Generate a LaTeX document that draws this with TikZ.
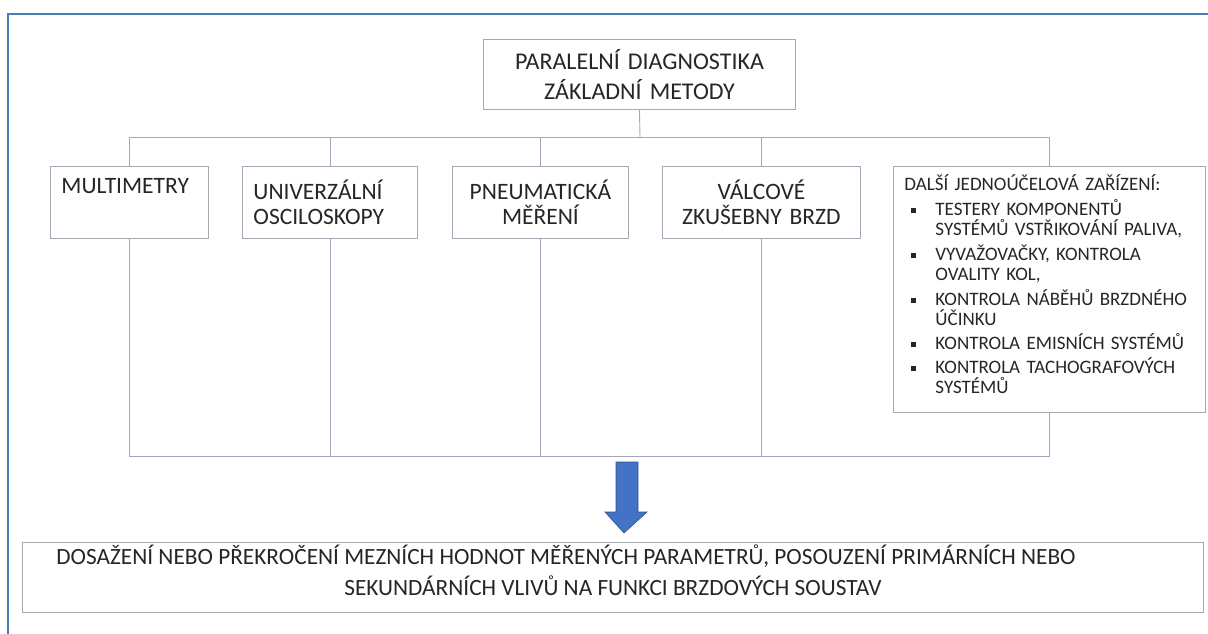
\documentclass[tikz,border=0pt]{standalone}
\usepackage{fontspec}
\setmainfont{Carlito}
\definecolor{framebl}{HTML}{4A7EBB}
\definecolor{boxline}{HTML}{A6A8B4}
\definecolor{wire}{HTML}{A2A6BE}
\definecolor{ink}{HTML}{262626}
\definecolor{arrowbl}{HTML}{4472C4}
\definecolor{arrowedge}{HTML}{2F528F}
\newcommand\sqbul{\makebox[31pt][l]{\hspace{7pt}\raisebox{3pt}{\rule{5pt}{5pt}}}}
\newcommand\sqind{\hspace*{31pt}}
\tikzset{
  box/.style={draw=boxline, line width=0.9pt, fill=white, text=ink,
    anchor=north west, inner xsep=11pt, inner ysep=4pt,
    font=\fontsize{23.5}{25}\selectfont},
  wireline/.style={draw=wire, line width=0.9pt},
}
\begin{document}
\begin{tikzpicture}[x=1pt,y=-1pt]
\useasboundingbox (0,0) rectangle (1208,633);
% outer frame, running past the page on the right and at the bottom
\begin{scope}
  \clip (0,0) rectangle (1208,633);
  \draw[framebl, line width=2pt] (8,14) rectangle (1230,660);
\end{scope}

% title box
\node[box, minimum width=312, minimum height=70, text width=290, align=center,
  font=\fontsize{24}{29.5}\selectfont]
  (top) at (483,39) {PARALELNÍ DIAGNOSTIKA\\ZÁKLADNÍ METODY};

% method boxes
\node[box, minimum width=158, minimum height=72, text width=136, align=left]
  (multi) at (50,166) {MULTIMETRY\\\strut};
\node[box, minimum width=175, minimum height=72, text width=153, align=left]
  (osci) at (242,166) {UNIVERZÁLNÍ\\OSCILOSKOPY};
\node[box, minimum width=176, minimum height=72, text width=154, align=center]
  (pneu) at (452,166) {PNEUMATICKÁ\\MĚŘENÍ};
\node[box, minimum width=198, minimum height=72, text width=176, align=center]
  (valc) at (662,166) {VÁLCOVÉ\\ZKUŠEBNY BRZD};

% box of further single-purpose devices and its list
\node[box, minimum width=312, minimum height=246] (dalsi) at (893,166) {};
\node[text=ink, text width=290, align=left, font=\fontsize{19}{20}\selectfont]
  (dalsitxt) at ([yshift=5pt]dalsi.center) {DALŠÍ JEDNOÚČELOVÁ ZAŘÍZENÍ:\\[5pt]
  \sqbul TESTERY KOMPONENTŮ\\
  \sqind SYSTÉMŮ VSTŘIKOVÁNÍ PALIVA,\\[5pt]
  \sqbul VYVAŽOVAČKY, KONTROLA\\
  \sqind OVALITY KOL,\\[5pt]
  \sqbul KONTROLA NÁBĚHŮ BRZDNÉHO\\
  \sqind ÚČINKU\\[4pt]
  \sqbul KONTROLA EMISNÍCH SYSTÉMŮ\\[4pt]
  \sqbul KONTROLA TACHOGRAFOVÝCH\\
  \sqind SYSTÉMŮ};

% result box and its text
\node[box, minimum width=1181, minimum height=70] (result) at (22,542) {};
\node[text=ink, align=center, font=\fontsize{23.3}{31}\selectfont]
  (resulttxt) at ([yshift=7pt]result.center)
  {DOSAŽENÍ NEBO PŘEKROČENÍ MEZNÍCH HODNOT MĚŘENÝCH PARAMETRŮ, POSOUZENÍ PRIMÁRNÍCH NEBO\hspace*{94pt}\\
  SEKUNDÁRNÍCH VLIVŮ NA FUNKCI BRZDOVÝCH SOUSTAV};

% upper and lower buses
\coordinate (busA) at (640,137);
\coordinate (busB) at (640,456);
\draw[wireline] (top.south) -- (busA);
\foreach \n in {multi,osci,pneu,valc,dalsi}{
  \draw[wireline] (\n.north) |- (busA);
  \draw[wireline] (\n.south) |- (busB);
}

% block arrow down to the result
\coordinate (ar) at (627,462);
\filldraw[fill=arrowbl, draw=arrowedge, line width=0.6pt]
  ([xshift=-11]ar) -- ([xshift=11]ar) -- ([shift={(11,50)}]ar)
  -- ([shift={(20,50)}]ar) -- ([shift={(-3,71)}]ar)
  -- ([shift={(-22,50)}]ar) -- ([shift={(-11,50)}]ar) -- cycle;
\end{tikzpicture}
\end{document}
